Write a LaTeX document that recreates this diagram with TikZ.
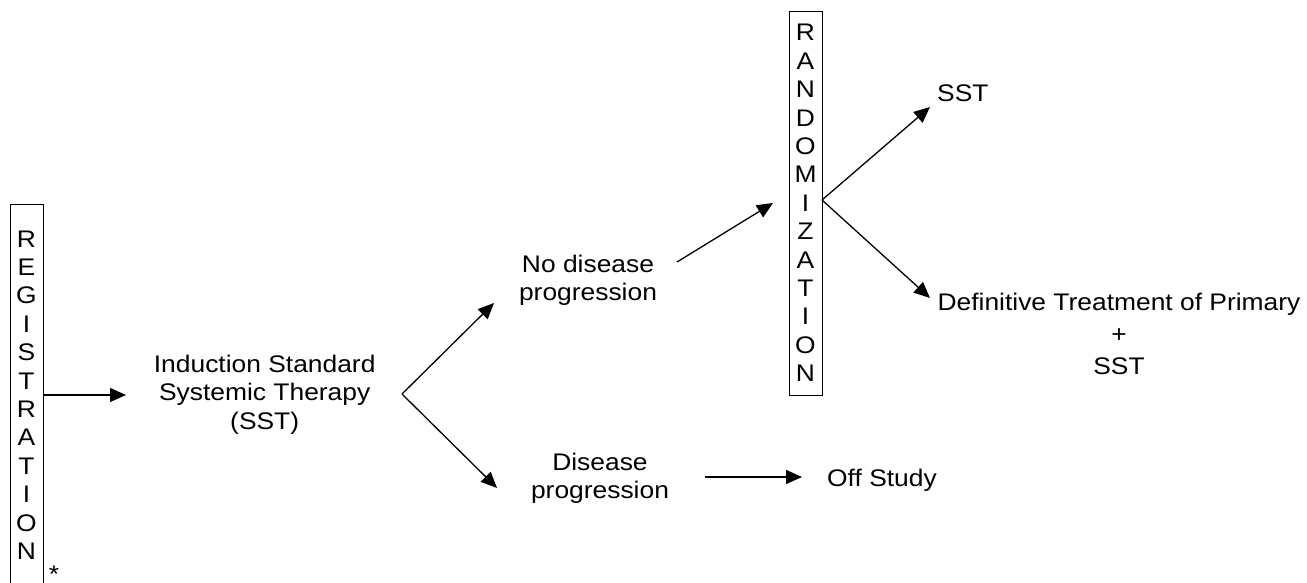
\documentclass[tikz,border=0pt]{standalone}
\usepackage{fontspec}
\setmainfont{Liberation Sans}[FakeStretch=1.1]
\usetikzlibrary{arrows.meta}
\begin{document}
\begin{tikzpicture}[x=1pt,y=-1pt,
  txt/.style={inner sep=0pt,align=center,font=\fontsize{24}{28.3}\selectfont},
  vbox/.style={draw,line width=0.9pt,minimum width=33pt,inner sep=0pt,align=center,font=\fontsize{24}{28.4}\selectfont},
  arr/.style={line width=1.3pt,-{Triangle[length=16pt,width=14pt]}}]
\clip (0,0) rectangle (1307,583);
\fill[white] (0,0) rectangle (1307,583);
% boxes
\node[vbox,minimum height=382pt] (reg) at (26.5,395) {R\\E\\G\\I\\S\\T\\R\\A\\T\\I\\O\\N};
\node[txt,anchor=north] (star) at (54,566) {*};
\node[vbox,minimum height=384pt] (rand) at (805.5,203) {R\\A\\N\\D\\O\\M\\I\\Z\\A\\T\\I\\O\\N};
% texts
\node[txt,anchor=north] (ind) at (264.7,355) {Induction Standard\\Systemic Therapy\\(SST)};
\node[txt,anchor=north] (nodis) at (588,255) {No disease\\progression};
\node[txt,anchor=north] (dis) at (600,453) {Disease\\progression};
\node[txt,anchor=west] (off) at (827,480) {Off Study};
\node[txt,anchor=north west] (sst) at (937,85) {SST};
\node[txt,anchor=north,font=\fontsize{24}{32}\selectfont] (def) at (1119,293) {Definitive Treatment of Primary\\+\\SST};
% connector points
\coordinate (regout) at (43,395);
\coordinate (indin) at (126,395);
\coordinate (fork) at (402,394);
\coordinate (nodisin) at (494,303);
\coordinate (disin) at (497,488);
\coordinate (nodisout) at (677,262);
\coordinate (randin) at (773,203);
\coordinate (randout) at (822,200);
\coordinate (sstin) at (930,107);
\coordinate (defin) at (930,298);
\coordinate (disout) at (705,477);
\coordinate (offin) at (802,477);
% connectors
\draw[arr] (regout) -- (indin);
\draw[arr] (fork) -- (nodisin);
\draw[arr] (fork) -- (disin);
\draw[arr] (nodisout) -- (randin);
\draw[arr] (randout) -- (sstin);
\draw[arr] (randout) -- (defin);
\draw[arr] (disout) -- (offin);
\end{tikzpicture}
\end{document}
